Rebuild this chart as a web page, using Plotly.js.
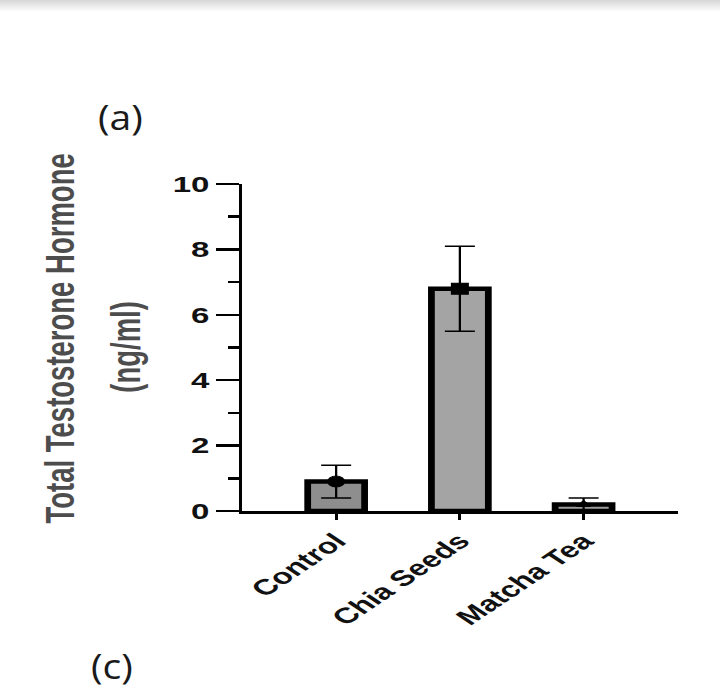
<!DOCTYPE html>
<html>
<head>
<meta charset="utf-8">
<script src="https://cdn.plot.ly/plotly-3.0.1.min.js"></script>
<style>
  html, body { margin: 0; padding: 0; background: #fff; overflow: hidden; }
  #wrap { position: relative; width: 720px; height: 692px; overflow: hidden; background: #fff; }
  /* figure is laid out at 480px and widened 1.5x, as in the published panel */
  #chart { position: absolute; left: 0; top: 0; width: 480px; height: 692px;
           transform: scaleX(1.5); transform-origin: 0 0; }
  #edge { position: absolute; left: 0; top: 0; width: 720px; height: 12px; pointer-events: none;
          background: linear-gradient(#d6d6d6, rgba(255,255,255,0)); }
  .panel { position: absolute; font-family: 'Open Sans', 'Noto Sans', sans-serif; font-size: 34px;
           line-height: 1; color: #1a1a1a; transform: scaleX(1.15); transform-origin: 0 0; white-space: nowrap; }
</style>
</head>
<body>
<div id="wrap">
  <div id="chart"></div>
  <div class="panel" style="left:98px; top:100px;">(a)</div>
  <div class="panel" style="left:91px; top:649px;">(c)</div>
  <div id="edge"></div>
</div>
<script>
// Total testosterone (ng/ml), mean ± SD per group
const groups = ['Control', 'Chia Seeds', 'Matcha Tea'];
const meanValues = [0.9, 6.8, 0.2];
const errorValues = [0.5, 1.3, 0.2];
const barColors = ['#8e8e8e', '#a4a4a4', '#9c9c9c'];
const markerSymbols = ['circle', 'square', 'triangle-up'];
const yMajorTicks = [0, 2, 4, 6, 8, 10];
const yMinorTicks = [1, 3, 5, 7, 9];

const boldFont = 'Liberation Sans, Arial, Helvetica, sans-serif';

const bars = {
  type: 'bar',
  x: groups,
  y: meanValues,
  width: 0.46,
  marker: { color: barColors, line: { color: '#000', width: 4.5 } },
  hoverinfo: 'skip'
};

const means = {
  type: 'scatter',
  mode: 'markers',
  x: groups,
  y: meanValues,
  cliponaxis: false,
  marker: { symbol: markerSymbols, size: [11, 11, 8], color: '#000', opacity: 1,
            line: { color: '#000', width: 1 } },
  error_y: { type: 'data', array: errorValues, visible: true, color: '#000', thickness: 1.5, width: 10 },
  hoverinfo: 'skip'
};

const layout = {
  width: 480,
  height: 692,
  margin: { l: 161.3, r: 28, t: 184, b: 181 },
  paper_bgcolor: 'rgba(0,0,0,0)',
  plot_bgcolor: 'rgba(0,0,0,0)',
  showlegend: false,
  xaxis: {
    type: 'category',
    range: [-0.765, 2.763],
    showline: true, linecolor: '#000', linewidth: 2.5,
    ticks: 'outside', ticklen: 6, tickwidth: 2, tickcolor: '#000',
    tickangle: -45,
    tickfont: { family: boldFont, size: 22, weight: 'bold', color: '#111' },
    showgrid: false, zeroline: false, fixedrange: true
  },
  yaxis: {
    range: [0, 10],
    tickmode: 'array', tickvals: yMajorTicks,
    showline: true, linecolor: '#000', linewidth: 2,
    ticks: 'outside', ticklen: 15, tickwidth: 2.5, tickcolor: '#000',
    ticklabelstandoff: -1.5,
    minor: { tickmode: 'array', tickvals: yMinorTicks, ticks: 'outside', ticklen: 7, tickwidth: 2.5, tickcolor: '#000' },
    tickfont: { family: boldFont, size: 22, weight: 'bold', color: '#111' },
    showgrid: false, zeroline: false, fixedrange: true
  },
  annotations: [
    { text: 'Total Testosterone Hormone', textangle: -90, showarrow: false,
      xref: 'paper', yref: 'paper', x: 0, y: 0.5275, xanchor: 'center', yanchor: 'middle', xshift: -121,
      font: { family: boldFont, size: 27.5, weight: 'bold', color: '#4d4d4d' } },
    { text: '(ng/ml)', textangle: -90, showarrow: false,
      xref: 'paper', yref: 'paper', x: 0, y: 0.5024, xanchor: 'center', yanchor: 'middle', xshift: -77,
      font: { family: boldFont, size: 27.5, weight: 'bold', color: '#4d4d4d' } },
    { text: '***', showarrow: false,
      xref: 'x', yref: 'y', x: groups[1], y: 10.1, xanchor: 'center', yanchor: 'middle',
      font: { family: boldFont, size: 20, weight: 'bold', color: '#333' } }
  ]
};

Plotly.newPlot('chart', [bars, means], layout, { staticPlot: true, displayModeBar: false });
</script>
</body>
</html>
